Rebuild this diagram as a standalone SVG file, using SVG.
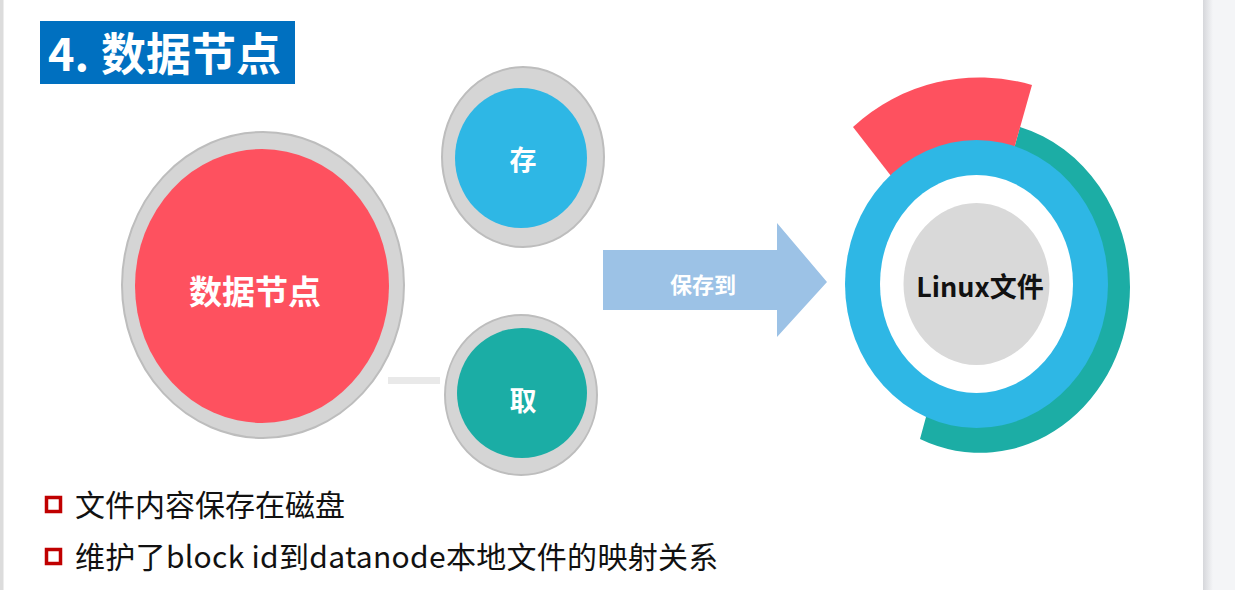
<svg xmlns="http://www.w3.org/2000/svg" width="1235" height="590" viewBox="0 0 1235 590">
<defs>
<linearGradient id="sideShade" x1="0" y1="0" x2="1" y2="0">
<stop offset="0" stop-color="#d6d7db"/>
<stop offset="1" stop-color="#f4f5f7"/>
</linearGradient>
</defs>
<style>
.ring{fill:#d5d5d5;stroke:#bdbdbd;stroke-width:2}
.lbl{font-family:"Noto Sans CJK SC","Noto Sans",sans-serif;font-weight:bold;fill:#ffffff;text-anchor:middle;dominant-baseline:central}
.bul{font-family:"Noto Sans CJK SC","Noto Sans",sans-serif;font-size:30px;fill:#111111}
.box{fill:#ffffff;stroke:#c00000;stroke-width:3.5}
</style>
<rect x="0" y="0" width="1235" height="590" fill="#ffffff"/>
<rect x="0" y="0" width="3.5" height="590" fill="#dcdcdc"/>
<rect x="1203" y="0" width="10" height="590" fill="url(#sideShade)"/>
<rect x="1213" y="0" width="22" height="590" fill="#f4f5f7"/>

<g id="title">
<rect x="40" y="21" width="255" height="63" fill="#0070c0"/>
<text x="48" y="71" font-family="'Noto Sans CJK SC','Noto Sans',sans-serif" font-weight="bold" font-size="45" fill="#ffffff">4. <tspan x="101">数据节点</tspan></text>
</g>

<g id="connectors">
<rect x="388" y="377" width="52" height="7" fill="#e9e9e9"/>
<polygon id="arrow-save" points="603,250 777,250 777,223 827,282 777,337 777,310 603,310" fill="#9cc2e6"/>
<text class="lbl" x="703" y="283" font-size="22">保存到</text>
</g>

<g id="node-datanode">
<ellipse class="ring" cx="263" cy="285" rx="141" ry="153"/>
<ellipse cx="262" cy="286" rx="127" ry="137" fill="#fe515f"/>
<text class="lbl" x="255" y="290" font-size="33">数据节点</text>
</g>

<g id="node-store">
<ellipse class="ring" cx="523" cy="157" rx="81" ry="90"/>
<ellipse cx="521" cy="158" rx="66" ry="70" fill="#2eb7e5"/>
<text class="lbl" x="523" y="158" font-size="27">存</text>
</g>

<g id="node-fetch">
<ellipse class="ring" cx="521" cy="395" rx="76" ry="80"/>
<ellipse cx="522" cy="393" rx="65" ry="65" fill="#1bada5"/>
<text class="lbl" x="523" y="399" font-size="27">取</text>
</g>

<g id="node-linux">
<path d="M1020,127 A150,166 0 0 1 1130,287 A150,166 0 0 1 920,439 L932,395 L1004,185 Z" fill="#1cada5"/>
<path d="M853,127 A186,186 0 0 1 1032,85 L1008,170 L905,194 Z" fill="#fe515f"/>
<ellipse cx="976.5" cy="284" rx="131.5" ry="144" fill="#2eb7e5"/>
<ellipse cx="976.5" cy="284" rx="96.5" ry="109" fill="#ffffff"/>
<ellipse cx="976.5" cy="284" rx="73" ry="81" fill="#d9d9d9"/>
<text x="980" y="285" font-family="'Noto Sans CJK SC','Noto Sans',sans-serif" font-weight="bold" font-size="27" fill="#111111" text-anchor="middle" dominant-baseline="central">Linux文件</text>
</g>

<g id="bullets">
<rect class="box" x="46.5" y="497.5" width="14" height="14"/>
<text class="bul" x="75" y="516">文件内容保存在磁盘</text>
<rect class="box" x="46.5" y="549.5" width="14" height="14"/>
<text class="bul" x="75" y="568" letter-spacing="0.3">维护了block id到datanode本地文件的映射关系</text>
</g>
</svg>
